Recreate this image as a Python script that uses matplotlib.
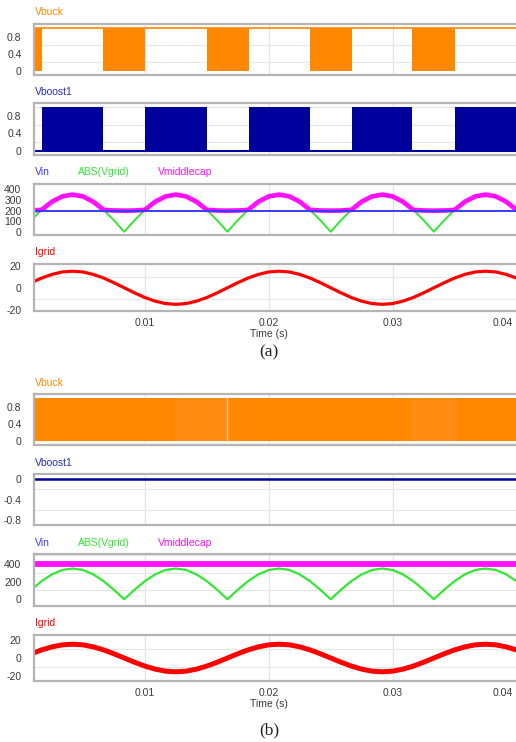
import numpy as np
import matplotlib
matplotlib.use('Agg')
import matplotlib.pyplot as plt
import matplotlib.transforms as mtransforms

plt.rcParams['font.family'] = ['Liberation Sans', 'DejaVu Sans']

# sample times (s), 1/1200 s apart (18 deg of the 60 Hz grid)
t = [0.000833, 0.001667, 0.002500, 0.003333, 0.004167, 0.005000, 0.005833, 0.006667, 0.007500, 0.008333,
     0.009167, 0.010000, 0.010833, 0.011667, 0.012500, 0.013333, 0.014167, 0.015000, 0.015833, 0.016667,
     0.017500, 0.018333, 0.019167, 0.020000, 0.020833, 0.021667, 0.022500, 0.023333, 0.024167, 0.025000,
     0.025833, 0.026667, 0.027500, 0.028333, 0.029167, 0.030000, 0.030833, 0.031667, 0.032500, 0.033333,
     0.034167, 0.035000, 0.035833, 0.036667, 0.037500, 0.038333, 0.039167, 0.040000, 0.040833, 0.041667]

# grid current (A)
igrid = [4.6, 8.8, 12.1, 14.3, 15.0, 14.3, 12.1, 8.8, 4.6, 0.0,
         -4.6, -8.8, -12.1, -14.3, -15.0, -14.3, -12.1, -8.8, -4.6, 0.0,
         4.6, 8.8, 12.1, 14.3, 15.0, 14.3, 12.1, 8.8, 4.6, 0.0,
         -4.6, -8.8, -12.1, -14.3, -15.0, -14.3, -12.1, -8.8, -4.6, 0.0,
         4.6, 8.8, 12.1, 14.3, 15.0, 14.3, 12.1, 8.8, 4.6, 0.0]

# rectified grid voltage (V)
vgrid_abs = [108, 206, 283, 333, 350, 333, 283, 206, 108, 0,
             108, 206, 283, 333, 350, 333, 283, 206, 108, 0,
             108, 206, 283, 333, 350, 333, 283, 206, 108, 0,
             108, 206, 283, 333, 350, 333, 283, 206, 108, 0,
             108, 206, 283, 333, 350, 333, 283, 206, 108, 0]

# middle capacitor voltage (V), case (a)
vmid_a = [200, 206, 283, 333, 350, 333, 283, 206, 200, 198,
          200, 206, 283, 333, 350, 333, 283, 206, 200, 198,
          200, 206, 283, 333, 350, 333, 283, 206, 200, 198,
          200, 206, 283, 333, 350, 333, 283, 206, 200, 198,
          200, 206, 283, 333, 350, 333, 283, 206, 200, 198]
vmid_b = [400] * 50
vin_a = [200] * 50
vin_b = [400] * 50

# switching intervals (s) in case (a)
buck_start = [0.0000, 0.0066, 0.0150, 0.0233, 0.0316, 0.0400]
buck_end = [0.0017, 0.0100, 0.0184, 0.0267, 0.0350, 0.0434]
boost_start = [0.0017, 0.0100, 0.0184, 0.0267, 0.0350]
boost_end = [0.0066, 0.0150, 0.0233, 0.0316, 0.0400]

# case (b): buck switches all the time, boost idle
buck_b_start, buck_b_end = 0.0, 0.0434
buck_b_gap = [0.01667]
boost_b = [0, 0]

W, H = 516, 742
X0, X1 = 0.00105, 0.0423
ORANGE = '#ff8800'
NAVY = '#00009c'
BLUE = '#3a3aff'
GREEN = '#33e633'
MAGENTA = '#ff10ff'
RED = '#ff0000'
TXT = '#3a3a3a'

fig = plt.figure(figsize=(W / 100, H / 100), dpi=100)


def panel(top, bottom, ylim, yticks, ygrid, xlabels=False):
    ax = fig.add_axes([34 / W, 1 - bottom / H, (545 - 34) / W, (bottom - top) / H])
    ax.set_xlim(X0, X1)
    ax.set_ylim(*ylim)
    ax.set_xticks([0.01, 0.02, 0.03, 0.04])
    ax.set_yticks(ygrid, minor=True)
    ax.set_yticks(yticks)
    ax.set_yticklabels([('%g' % v) for v in yticks])
    ax.grid(True, which='major', axis='x', color='#e2e2e2', lw=0.9)
    ax.grid(True, which='minor', axis='y', color='#e6e6e6', lw=0.8)
    ax.set_axisbelow(True)
    ax.tick_params(axis='both', which='both', length=0, labelsize=7.5, colors=TXT)
    ax.tick_params(axis='y', pad=9)
    ax.tick_params(axis='x', pad=5)
    if not xlabels:
        ax.set_xticklabels([])
    else:
        # last label pushed inside the picture, as in the original tool
        lab = ax.get_xticklabels()[-1]
        lab.set_ha('right')
        lab.set_transform(lab.get_transform() +
                          mtransforms.ScaledTranslation(-3 / 72, 0, fig.dpi_scale_trans))
    for sp in ax.spines.values():
        sp.set_color('#b4b4b4')
        sp.set_linewidth(1.6)
    return ax


def label(x, y, s, c):
    fig.text(x / W, 1 - y / H, s, color=c, fontsize=7.5, va='center', ha='left')


# ---------------- (a) ----------------
ax = panel(24, 75, (-0.1, 1.1), [0, 0.4, 0.8], [0, 0.2, 0.4, 0.6, 0.8, 1.0])
ax.plot([X0, X1], [1, 1], color=ORANGE, lw=1.2)
for s, e in zip(buck_start, buck_end):
    ax.fill_between([s, e], 0, 1, color=ORANGE, lw=0)
label(35, 12, 'Vbuck', ORANGE)

ax = panel(103, 155, (-0.1, 1.1), [0, 0.4, 0.8], [0, 0.2, 0.4, 0.6, 0.8, 1.0])
ax.plot([X0, X1], [0, 0], color=NAVY, lw=1.5)
for s, e in zip(boost_start, boost_end):
    ax.fill_between([s, e], 0, 1, color=NAVY, lw=0)
label(35, 92, 'Vboost1', '#2a2ab8')

ax = panel(184, 235, (-31, 450), [0, 100, 200, 300, 400], [0, 100, 200, 300, 400])
ax.plot(t, vgrid_abs, color=GREEN, lw=1.4)
ax.plot(t, vmid_a, color=MAGENTA, lw=3.4, solid_capstyle='butt')
ax.plot(t, vin_a, color=BLUE, lw=1.4)
label(35, 172, 'Vin', BLUE)
label(78, 172, 'ABS(Vgrid)', GREEN)
label(158, 172, 'Vmiddlecap', MAGENTA)

ax = panel(264, 311, (-21, 21.5), [-20, 0, 20], [-20, -10, 0, 10, 20], xlabels=True)
ax.plot(t, igrid, color=RED, lw=2.3)
label(35, 252, 'Igrid', RED)
fig.text(269 / W, 1 - 334 / H, 'Time (s)', color=TXT, fontsize=7.5, ha='center', va='center')
fig.text(269 / W, 1 - 352 / H, '(a)', fontsize=12.5, ha='center', va='center',
         family=['Liberation Serif', 'DejaVu Serif'], color='#222222')

# ---------------- (b) ----------------
ax = panel(394, 445, (-0.1, 1.1), [0, 0.4, 0.8], [0, 0.2, 0.4, 0.6, 0.8, 1.0])
ax.fill_between([buck_b_start, buck_b_end], 0, 1, color=ORANGE, lw=0)
ax.fill_between([0.0124, 0.0166], 0, 1, color='#ff8d14', lw=0)
ax.fill_between([0.0316, 0.0352], 0, 1, color='#ff8d14', lw=0)
for g in buck_b_gap:
    ax.plot([g, g], [0, 1], color='#ffc890', lw=1.0)
label(35, 383, 'Vbuck', ORANGE)

ax = panel(474, 525, (-0.89, 0.1), [-0.8, -0.4, 0], [-0.8, -0.6, -0.4, -0.2, 0])
ax.plot([X0, X1], boost_b, color=NAVY, lw=1.8)
label(35, 463, 'Vboost1', '#2a2ab8')

ax = panel(554, 606, (-77, 515), [0, 200, 400], [0, 100, 200, 300, 400, 500])
ax.plot(t, vin_b, color=BLUE, lw=1.4)
ax.plot(t, vgrid_abs, color=GREEN, lw=1.6)
ax.plot(t, vmid_b, color=MAGENTA, lw=4.2)
label(35, 543, 'Vin', BLUE)
label(78, 543, 'ABS(Vgrid)', GREEN)
label(158, 543, 'Vmiddlecap', MAGENTA)

ax = panel(635, 681, (-25, 25), [-20, 0, 20], [-20, -10, 0, 10, 20], xlabels=True)
ax.plot(t, igrid, color=RED, lw=3.6)
label(35, 623, 'Igrid', RED)
fig.text(269 / W, 1 - 704 / H, 'Time (s)', color=TXT, fontsize=7.5, ha='center', va='center')
fig.text(269 / W, 1 - 730 / H, '(b)', fontsize=12.5, ha='center', va='center',
         family=['Liberation Serif', 'DejaVu Serif'], color='#222222')

fig.savefig('out.png', dpi=100)
